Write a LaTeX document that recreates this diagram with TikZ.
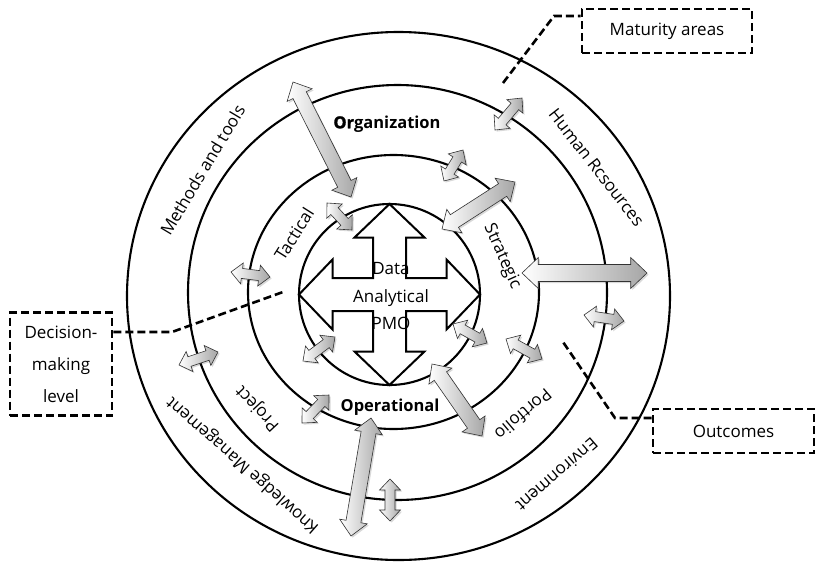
\documentclass[tikz,border=0pt]{standalone}
\usepackage{fontspec}
\setmainfont{Open Sans}
\usetikzlibrary{calc}

% double-headed block arrow from the light end (#1,#2) to the dark end (#3,#4);
% #5 = half width of the shaft, #6 = half width of the heads
\newcommand{\twoway}[6]{%
  \pgfmathsetmacro{\twAng}{atan2(#2-#4,#3-#1)}%
  \pgfmathsetmacro{\twLen}{veclen(#3-#1,#4-#2)}%
  \pgfmathsetmacro{\twHd}{1.05*#6}%
  \pgfmathsetmacro{\twBk}{\twLen-\twHd}%
  \begin{scope}[shift={(#1+1.6,#2+1.6)}, rotate=\twAng]
    \fill[blockshadow] (0,0) -- (\twHd,#6) -- (\twHd,#5) -- (\twBk,#5) -- (\twBk,#6)
      -- (\twLen,0) -- (\twBk,-#6) -- (\twBk,-#5) -- (\twHd,-#5) -- (\twHd,-#6) -- cycle;
  \end{scope}
  \begin{scope}[shift={(#1,#2)}, rotate=\twAng]
    \shade[blockarrow] (0,0) -- (\twHd,#6) -- (\twHd,#5) -- (\twBk,#5) -- (\twBk,#6)
      -- (\twLen,0) -- (\twBk,-#6) -- (\twBk,-#5) -- (\twHd,-#5) -- (\twHd,-#6) -- cycle;
  \end{scope}%
}

\tikzset{
  ring/.style={draw=black, line width=2.1pt},
  corearrow/.style={draw=black, line width=2pt, line join=miter, fill=white},
  tag/.style={draw=black, line width=2.6pt, dash pattern=on 8pt off 4pt,
    inner sep=0pt, font=\fontsize{17}{20}\selectfont},
  leader/.style={draw=black, line width=2.6pt, dash pattern=on 8pt off 4pt},
  ringlabel/.style={font=\fontsize{17}{20}\selectfont, inner sep=0pt},
  levellabel/.style={font=\bfseries\fontsize{16.5}{20}\selectfont, inner sep=0pt},
  coretext/.style={font=\fontsize{17}{27.5}\selectfont, align=center, inner sep=0pt},
  blockarrow/.style={draw=black!80, line width=0.6pt, left color=white, right color=black!35},
  blockshadow/.style={fill=black, opacity=0.15},
}

\begin{document}
\begin{tikzpicture}[x=1pt, y=-1pt]
  \useasboundingbox (0,0) rectangle (819,568);
  \fill[white] (0,0) rectangle (819,568);

  % concentric rings
  \coordinate (c-outer) at (398.5,296);
  \coordinate (c-third) at (397.5,292.5);
  \coordinate (c-second) at (393.5,292);
  \draw[ring] (c-outer) ellipse [x radius=271.5pt, y radius=264pt];
  \draw[ring] (c-third) ellipse [x radius=209.5pt, y radius=207.5pt];
  \draw[ring] (c-second) ellipse [x radius=145.5pt, y radius=137pt];
  \node[circle, ring, fill=white, minimum size=181pt, inner sep=0pt] (core) at (389.5,294.5) {};

  % four-way arrow in the core
  \begin{scope}[shift={(core)}]
    \draw[corearrow] (0,-90.5) -- (-35,-57) -- (-16.5,-57) -- (-16.5,-16.5) -- (-57,-16.5)
      -- (-57,-35) -- (-90.5,0) -- (-57,35) -- (-57,16.5) -- (-16.5,16.5) -- (-16.5,57)
      -- (-35,57) -- (0,90.5) -- (35,57) -- (16.5,57) -- (16.5,16.5) -- (57,16.5)
      -- (57,35) -- (90.5,0) -- (57,-35) -- (57,-16.5) -- (16.5,-16.5) -- (16.5,-57)
      -- (35,-57) -- cycle;
  \end{scope}
  \node[coretext] (pmo) at (391,296.5) {Data\\Analytical\\PMO};

  % links between the rings
  \twoway{293}{82}{351}{197}{7.5}{14}
  \twoway{327}{203}{352}{230}{5}{10.5}
  \twoway{444}{181}{463}{150}{5}{10.5}
  \twoway{495}{130}{522}{98}{5}{10.5}
  \twoway{515}{182}{442}{229}{7.5}{14}
  \twoway{522}{273}{647}{273}{8.5}{15.5}
  \twoway{584}{315}{624}{321}{5}{10.5}
  \twoway{506}{339}{542}{359}{5}{10.5}
  \twoway{453}{324}{487}{343}{5}{10.5}
  \twoway{482}{436}{432}{364}{7.5}{14}
  \twoway{351}{536}{371}{418}{7.5}{14}
  \twoway{390}{521}{390}{479}{5}{10.5}
  \twoway{302}{423}{329}{395}{5}{10.5}
  \twoway{303}{361}{335}{337}{5}{10.5}
  \twoway{231}{272}{270}{277}{5}{10.5}
  \twoway{179}{365}{218}{352}{5}{10.5}

  % ring labels
  \node[ringlabel, rotate=59.2] (methods) at (202.5,170) {Methods and tools};
  \node[ringlabel, rotate=-52] (hr) at (596.5,167.5) {Human Rcsources};
  \node[ringlabel, rotate=138.5] (km) at (243,465) {Knowledge Management};
  \node[ringlabel, rotate=-139] (env) at (557,475) {Environment};
  \node[ringlabel, rotate=57.7] (tactical) at (294,234) {Tactical};
  \node[ringlabel, rotate=-65.9] (strategic) at (502,256.5) {Strategic};
  \node[ringlabel, rotate=133] (project) at (258,408) {Project};
  \node[ringlabel, rotate=-139.7] (portfolio) at (523.5,414.5) {Portfolio};
  \node[levellabel] (organization) at (387,124)
    {{\addfontfeature{FakeBold=1.6}Or}ganization};
  \node[levellabel] (operational) at (390,407) {Operational};

  % callouts
  \node[tag, minimum width=170pt, minimum height=44pt] (maturity) at (667,31) {Maturity areas};
  \node[tag, minimum width=102pt, minimum height=103pt, align=center,
        font=\fontsize{17}{32}\selectfont] (decision) at (61,364) {Decision-\\making\\level};
  \node[tag, minimum width=161pt, minimum height=44pt] (outcomes) at (733.5,431) {Outcomes};

  \coordinate (mat-bend) at (554,16);
  \coordinate (mat-tip) at (503,83);
  \coordinate (dec-bend) at (172,332);
  \coordinate (dec-tip) at (283,292);
  \coordinate (out-bend) at (615,418);
  \coordinate (out-tip) at (563,342);
  \draw[leader] (mat-tip) -- (mat-bend) -- (mat-bend -| maturity.west);
  \draw[leader] (decision.east |- dec-bend) -- (dec-bend) -- (dec-tip);
  \draw[leader] (outcomes.west |- out-bend) -- (out-bend) -- (out-tip);
\end{tikzpicture}
\end{document}
